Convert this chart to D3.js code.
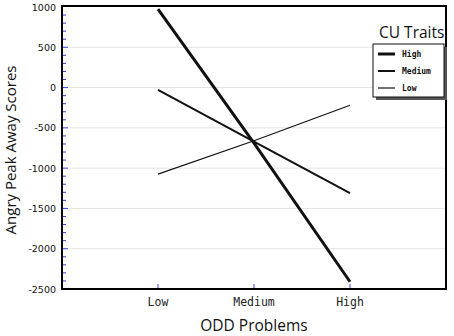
<!DOCTYPE html>
<html>
<head>
<meta charset="utf-8">
<script src="https://cdn.jsdelivr.net/npm/d3@7"></script>
<style>
body { margin: 0; background: #fff; }
</style>
</head>
<body>
<script>
var width = 454;
var height = 336;

// data
var levels = ["Low", "Medium", "High"];
var highCU = [975, -690, -2410];
var mediumCU = [-30, -670, -1310];
var lowCU = [-1075, -660, -220];
var seriesNames = ["High", "Medium", "Low"];
var yTicks = [1000, 500, 0, -500, -1000, -1500, -2000, -2500];

var series = [
  { name: "High", values: highCU, w: 3 },
  { name: "Medium", values: mediumCU, w: 2 },
  { name: "Low", values: lowCU, w: 1.2 }
];

var plotLeft = 62, plotRight = 446, plotTop = 7, plotBottom = 289;

var svg = d3.select("body")
  .append("svg")
  .attr("width", width)
  .attr("height", height);

var x = d3.scaleLinear().domain([0, 4]).range([plotLeft, plotRight]);
var y = d3.scaleLinear().domain([-2500, 1000]).range([plotBottom, plotTop]);

// grid lines
svg.selectAll(".grid")
  .data(yTicks.slice(1, -1))
  .enter()
  .append("line")
  .attr("x1", plotLeft + 8)
  .attr("x2", plotRight)
  .attr("y1", d => y(d))
  .attr("y2", d => y(d))
  .attr("stroke", "#e2e2e2")
  .attr("stroke-width", 1);

// minor ticks
svg.selectAll(".minor")
  .data(d3.range(-2400, 1000, 100).filter(d => d % 500 != 0))
  .enter()
  .append("line")
  .attr("x1", plotLeft)
  .attr("x2", plotLeft + 4)
  .attr("y1", d => y(d))
  .attr("y2", d => y(d))
  .attr("stroke", "#3344ee")
  .attr("stroke-width", 1);

svg.selectAll(".major")
  .data(yTicks.slice(1, -1))
  .enter()
  .append("line")
  .attr("x1", plotLeft)
  .attr("x2", plotLeft + 6)
  .attr("y1", d => y(d))
  .attr("y2", d => y(d))
  .attr("stroke", "#3344ee")
  .attr("stroke-width", 1);

// x ticks
svg.selectAll(".xtick")
  .data(levels)
  .enter()
  .append("line")
  .attr("x1", (d, i) => x(i + 1))
  .attr("x2", (d, i) => x(i + 1))
  .attr("y1", plotBottom)
  .attr("y2", plotBottom - 5)
  .attr("stroke", "#3344ee")
  .attr("stroke-width", 1);

// y tick labels
svg.selectAll(".ylab")
  .data(yTicks)
  .enter()
  .append("text")
  .attr("x", plotLeft - 6)
  .attr("y", d => y(d) + 3.5)
  .attr("text-anchor", "end")
  .attr("font-family", "DejaVu Sans")
  .attr("font-size", "9.5px")
  .attr("fill", "#111")
  .text(d => d);

// x tick labels
svg.selectAll(".xlab")
  .data(levels)
  .enter()
  .append("text")
  .attr("x", (d, i) => x(i + 1))
  .attr("y", plotBottom + 17)
  .attr("text-anchor", "middle")
  .attr("font-family", "DejaVu Sans Mono")
  .attr("font-size", "11.5px")
  .attr("fill", "#222")
  .text(d => d);

// lines
var line = d3.line()
  .x((d, i) => x(i + 1))
  .y(d => y(d));

svg.selectAll(".series")
  .data(series)
  .enter()
  .append("path")
  .attr("d", d => line(d.values))
  .attr("fill", "none")
  .attr("stroke", "#111")
  .attr("stroke-width", d => d.w);

// frame
svg.append("rect")
  .attr("x", plotLeft)
  .attr("y", plotTop - 1)
  .attr("width", plotRight - plotLeft)
  .attr("height", plotBottom - plotTop + 1)
  .attr("fill", "none")
  .attr("stroke", "#000")
  .attr("stroke-width", 2);

// axis titles
svg.append("text")
  .attr("x", x(2))
  .attr("y", 331)
  .attr("text-anchor", "middle")
  .attr("font-family", "Open Sans")
  .attr("font-size", "15.5px")
  .attr("fill", "#111")
  .text("ODD Problems");

svg.append("text")
  .attr("transform", "translate(16,150) rotate(-90)")
  .attr("text-anchor", "middle")
  .attr("font-family", "Open Sans")
  .attr("font-size", "15px")
  .attr("fill", "#111")
  .text("Angry Peak Away Scores");

// legend
svg.append("text")
  .attr("x", 379)
  .attr("y", 38)
  .attr("font-family", "Open Sans")
  .attr("font-size", "15.5px")
  .attr("fill", "#111")
  .text("CU Traits");

svg.append("rect")
  .attr("x", 376)
  .attr("y", 47)
  .attr("width", 71)
  .attr("height", 53)
  .attr("fill", "#555");

svg.append("rect")
  .attr("x", 373)
  .attr("y", 44)
  .attr("width", 71)
  .attr("height", 53)
  .attr("fill", "#fff")
  .attr("stroke", "#111")
  .attr("stroke-width", 1);

var leg = svg.selectAll(".leg")
  .data(series)
  .enter()
  .append("g")
  .attr("transform", (d, i) => "translate(378," + (54 + i * 17) + ")");

leg.append("line")
  .attr("x1", 0)
  .attr("x2", 17)
  .attr("stroke", "#111")
  .attr("stroke-width", d => d.w);

leg.append("text")
  .attr("x", 24)
  .attr("y", 3)
  .attr("font-family", "DejaVu Sans Mono")
  .attr("font-size", "8px")
  .attr("font-weight", "bold")
  .attr("fill", "#111")
  .text((d, i) => seriesNames[i]);
</script>
</body>
</html>
